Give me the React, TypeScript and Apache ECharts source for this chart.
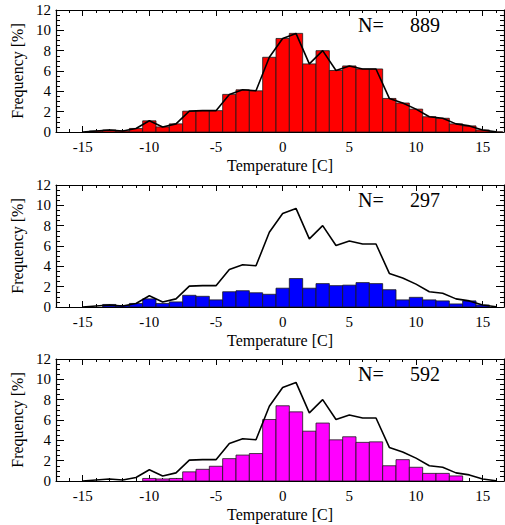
import React, { useEffect, useRef } from "react";
import * as echarts from "echarts";

// Temperature bins (bin centres, degrees C)
const bins = [-16, -15, -14, -13, -12, -11, -10, -9, -8, -7, -6, -5, -4, -3, -2, -1, 0, 1, 2, 3, 4, 5, 6, 7, 8, 9, 10, 11, 12, 13, 14, 15, 16];
// All cases (red) frequency [%]
const allFreq = [0, 0, 0.1, 0.2, 0.1, 0.35, 1.1, 0.5, 0.8, 2.05, 2.1, 2.1, 3.7, 4.15, 4.05, 7.35, 9.2, 9.7, 6.7, 8.0, 6.05, 6.5, 6.2, 6.2, 3.3, 2.85, 2.25, 1.5, 1.35, 0.8, 0.6, 0.2, 0.02];
// Subset 1 (blue)
const blueFreq = [0, 0, 0, 0.25, 0.15, 0.35, 0.8, 0.35, 0.5, 1.15, 1.05, 0.7, 1.5, 1.6, 1.4, 1.25, 1.85, 2.8, 1.85, 2.3, 2.1, 2.15, 2.4, 2.3, 1.7, 0.7, 0.95, 0.7, 0.6, 0.3, 0.6, 0.2, 0];
// Subset 2 (magenta)
const magentaFreq = [0, 0, 0, 0, 0, 0, 0.25, 0.2, 0.25, 0.9, 1.15, 1.45, 2.2, 2.55, 2.7, 6.05, 7.4, 6.8, 4.9, 5.7, 4.05, 4.35, 3.8, 3.85, 1.5, 2.1, 1.35, 0.75, 0.75, 0.5, 0, 0, 0];
const counts = ["889", "297", "592"];
const barColors = ["#ff0000", "#0000ff", "#ff00ff"];
const xMajorTicks = [-15, -10, -5, 0, 5, 10, 15];
const xMinorTicks = [-17, -16, -15, -14, -13, -12, -11, -10, -9, -8, -7, -6, -5, -4, -3, -2, -1, 0, 1, 2, 3, 4, 5, 6, 7, 8, 9, 10, 11, 12, 13, 14, 15, 16];
const yLabelValues = [0, 2, 4, 6, 8, 10, 12];
const xMin = -17;
const xMax = 16.6;

const FONT = "'Liberation Serif', 'DejaVu Serif', serif";

export default function App() {
  const ref = useRef<HTMLDivElement>(null);
  useEffect(() => {
    if (!ref.current) return;
    const chart = echarts.init(ref.current, undefined, { renderer: "svg" });
    const tops = [10, 185, 359];
    const H = 122;
    const grids = tops.map((t) => ({ left: 56, top: t, width: 448, height: H }));
    const xAxes: any[] = [];
    const yAxes: any[] = [];
    const series: any[] = [];
    const graphics: any[] = [];
    const datasets = [allFreq, blueFreq, magentaFreq];
    const lineData = bins.map((b, i) => [b, allFreq[i]]).filter((d) => d[0] >= -15);

    tops.forEach((t, gi) => {
      const base = { type: "value", gridIndex: gi, min: xMin, max: xMax, splitLine: { show: false } };
      xAxes.push({
        ...base,
        position: "bottom",
        axisLine: { show: true, onZero: false, lineStyle: { color: "#000", width: 1.2 } },
        axisTick: { show: true, inside: true, length: 6, customValues: xMajorTicks, lineStyle: { color: "#000", width: 1 } },
        axisLabel: { show: true, customValues: xMajorTicks, margin: 7, color: "#000", fontSize: 15, fontFamily: FONT },
        name: "Temperature [C]",
        nameLocation: "middle",
        nameGap: 25,
        nameTextStyle: { color: "#000", fontSize: 16, fontFamily: FONT },
      });
      xAxes.push({
        ...base,
        position: "bottom",
        axisLine: { show: false, onZero: false },
        axisTick: { show: true, inside: true, length: 3, customValues: xMinorTicks, lineStyle: { color: "#000", width: 1 } },
        axisLabel: { show: false },
      });
      xAxes.push({
        ...base,
        position: "top",
        axisLine: { show: true, onZero: false, lineStyle: { color: "#000", width: 1.2 } },
        axisTick: { show: true, inside: true, length: 6, customValues: xMajorTicks, lineStyle: { color: "#000", width: 1 } },
        axisLabel: { show: false },
      });
      xAxes.push({
        ...base,
        position: "top",
        axisLine: { show: false, onZero: false },
        axisTick: { show: true, inside: true, length: 3, customValues: xMinorTicks, lineStyle: { color: "#000", width: 1 } },
        axisLabel: { show: false },
      });
      const ybase = {
        type: "value",
        gridIndex: gi,
        min: 0,
        max: 12,
        interval: 2,
        splitLine: { show: false },
        minorTick: { show: true, splitNumber: 4, length: 4, lineStyle: { color: "#000", width: 1 } },
        axisTick: { show: true, inside: true, length: 8, lineStyle: { color: "#000", width: 1 } },
        axisLine: { show: true, onZero: false, lineStyle: { color: "#000", width: 1.2 } },
      };
      yAxes.push({
        ...ybase,
        position: "left",
        axisLabel: {
          show: true,
          customValues: yLabelValues,
          margin: 5,
          color: "#000",
          fontSize: 15,
          fontFamily: FONT,
        },
        name: "Frequency [%]",
        nameLocation: "middle",
        nameGap: 30,
        nameTextStyle: { color: "#000", fontSize: 16, fontFamily: FONT },
      });
      yAxes.push({
        ...ybase,
        position: "right",
        axisLabel: { show: false },
      });

      const color = barColors[gi];
      const values = datasets[gi];
      series.push({
        type: "custom",
        xAxisIndex: gi * 4,
        yAxisIndex: gi * 2,
        clip: true,
        z: 2,
        data: bins.map((b, i) => [b, values[i]]).filter((d) => d[1] > 0),
        renderItem: (params: any, api: any) => {
          const x = api.value(0);
          const y = api.value(1);
          const p1 = api.coord([x - 0.5, y]);
          const p2 = api.coord([x + 0.5, 0]);
          return {
            type: "rect",
            shape: { x: p1[0], y: p1[1], width: p2[0] - p1[0], height: p2[1] - p1[1] },
            style: { fill: color, stroke: "#1a1a1a", lineWidth: 0.8 },
          };
        },
      });
      series.push({
        type: "line",
        xAxisIndex: gi * 4,
        yAxisIndex: gi * 2,
        data: lineData,
        symbol: "none",
        z: 5,
        lineStyle: { color: "#000", width: 1.6 },
      });
      graphics.push({
        type: "text",
        left: 358,
        top: t + 16 - 11,
        style: { text: "N=", fontSize: 20, fontFamily: FONT, fill: "#000" },
      });
      graphics.push({
        type: "text",
        left: 410,
        top: t + 16 - 11,
        style: { text: counts[gi], fontSize: 20, fontFamily: FONT, fill: "#000" },
      });
    });

    chart.setOption({
      animation: false,
      backgroundColor: "#fff",
      grid: grids,
      xAxis: xAxes,
      yAxis: yAxes,
      series,
      graphic: graphics,
    });
    return () => chart.dispose();
  }, []);
  return <div ref={ref} style={{ position: "fixed", left: 0, top: 0, width: 505, height: 525 }} />;
}
